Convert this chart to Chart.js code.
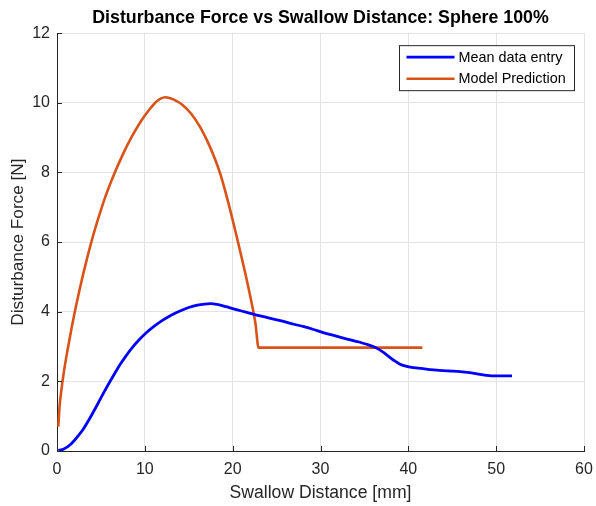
<!DOCTYPE html>
<html>
<head>
<meta charset="utf-8">
<script src="https://cdn.jsdelivr.net/npm/chart.js@4/dist/chart.umd.min.js"></script>
<style>
  html, body { margin: 0; padding: 0; background: #ffffff; }
  #wrap { width: 596px; height: 506px; }
</style>
</head>
<body>
<div id="wrap"><canvas id="c" width="596" height="506"></canvas></div>
<script>
// ---- data ----
const chartTitle = "Disturbance Force vs Swallow Distance: Sphere 100%";
const xAxisLabel = "Swallow Distance [mm]";
const yAxisLabel = "Disturbance Force [N]";
const seriesNames = ["Mean data entry", "Model Prediction"];

const meanX = [0.15, 0.6, 1.0, 1.5, 2.0, 2.5, 3.0, 3.6, 4.2, 4.8, 5.4, 6.0, 6.6, 7.2, 7.8, 8.5, 9.3, 10.1, 11.0, 12.0, 13.0, 14.0, 15.0, 16.0, 16.8, 17.5, 18.2, 18.9, 19.6, 20.3, 21.0, 22.0, 23.0, 24.3, 25.8, 27.0, 28.1, 29.2, 30.3, 31.5, 32.5, 33.4, 34.4, 35.3, 36.0, 36.5, 37.0, 37.5, 38.0, 38.5, 39.0, 39.5, 40.2, 41.5, 42.9, 44.5, 45.9, 47.0, 48.0, 48.9, 49.5, 51.8];
const meanY = [0.02, 0.04, 0.09, 0.18, 0.31, 0.46, 0.63, 0.88, 1.15, 1.43, 1.71, 1.98, 2.24, 2.49, 2.71, 2.95, 3.18, 3.38, 3.57, 3.75, 3.90, 4.02, 4.12, 4.19, 4.22, 4.23, 4.21, 4.17, 4.12, 4.07, 4.02, 3.95, 3.89, 3.81, 3.72, 3.64, 3.57, 3.49, 3.40, 3.32, 3.25, 3.19, 3.13, 3.06, 3.00, 2.94, 2.86, 2.77, 2.67, 2.58, 2.50, 2.45, 2.41, 2.37, 2.33, 2.30, 2.28, 2.25, 2.21, 2.17, 2.16, 2.16];

const modelX = [0.15, 0.3, 0.5, 0.8, 1.2, 1.7, 2.3, 3.0, 3.8, 4.6, 5.5, 6.5, 7.5, 8.5, 9.5, 10.5, 11.3, 11.8, 12.3, 12.8, 13.3, 14.3, 15.3, 16.3, 17.3, 18.0, 18.6, 19.2, 19.8, 20.4, 21.0, 21.6, 22.2, 22.6, 22.95, 41.6];
const modelY = [0.70, 1.30, 1.75, 2.30, 2.90, 3.58, 4.32, 5.10, 5.90, 6.60, 7.30, 7.95, 8.52, 9.02, 9.45, 9.80, 10.03, 10.12, 10.16, 10.14, 10.09, 9.94, 9.68, 9.30, 8.80, 8.38, 7.95, 7.42, 6.84, 6.22, 5.58, 4.92, 4.20, 3.65, 2.97, 2.97];

const xTicks = [0, 10, 20, 30, 40, 50, 60];
const yTicks = [0, 2, 4, 6, 8, 10, 12];

// ---- styling ----
const FONT = "'Liberation Sans', Arial, Helvetica, sans-serif";
const TEXT = "#262626";
const BLUE = "#0000ff";
const ORANGE = "#d95319";

function toPoints(xs, ys) { return xs.map((x, i) => ({ x: x, y: ys[i] })); }

// inward tick marks (MATLAB style)
const inwardTicks = {
  id: 'inwardTicks',
  afterDatasetsDraw(chart) {
    const ctx = chart.ctx, xs = chart.scales.x, ys = chart.scales.y, a = chart.chartArea;
    ctx.save();
    ctx.strokeStyle = TEXT;
    ctx.lineWidth = 1;
    ctx.beginPath();
    xTicks.forEach(v => {
      const px = Math.round(xs.getPixelForValue(v)) + 0.5;
      ctx.moveTo(px, a.bottom); ctx.lineTo(px, a.bottom - 5);
    });
    yTicks.forEach(v => {
      const py = Math.round(ys.getPixelForValue(v)) + 0.5;
      ctx.moveTo(a.left, py); ctx.lineTo(a.left + 5, py);
    });
    ctx.stroke();
    ctx.restore();
  }
};

// boxed legend inside the axes (top right)
const boxLegend = {
  id: 'boxLegend',
  afterDraw(chart) {
    const ctx = chart.ctx, a = chart.chartArea;
    const right = a.right - 9.5, top = a.top + 12.5;
    const w = 175, h = 45;
    const left = right - w;
    ctx.save();
    ctx.fillStyle = '#ffffff';
    ctx.fillRect(left, top, w, h);
    ctx.strokeStyle = TEXT;
    ctx.lineWidth = 1;
    ctx.strokeRect(left, top, w, h);
    ctx.font = "14.4px " + FONT;
    ctx.textBaseline = 'middle';
    ctx.textAlign = 'left';
    chart.data.datasets.forEach((ds, i) => {
      const cy = top + 11.5 + i * 21.6;
      ctx.strokeStyle = ds.borderColor;
      ctx.lineWidth = 2.6;
      ctx.beginPath();
      ctx.moveTo(left + 7, cy); ctx.lineTo(left + 55, cy);
      ctx.stroke();
      ctx.fillStyle = '#000000';
      ctx.fillText(ds.label, left + 59, cy + 0.5);
    });
    ctx.restore();
  }
};

new Chart(document.getElementById('c'), {
  type: 'scatter',
  data: {
    datasets: [
      { label: seriesNames[0], data: toPoints(meanX, meanY), showLine: true, borderColor: BLUE, backgroundColor: BLUE,
        borderWidth: 2.8, pointRadius: 0, cubicInterpolationMode: 'monotone' },
      { label: seriesNames[1], data: toPoints(modelX, modelY), showLine: true, borderColor: ORANGE, backgroundColor: ORANGE,
        borderWidth: 2.6, pointRadius: 0, cubicInterpolationMode: 'monotone' }
    ]
  },
  options: {
    responsive: false,
    animation: false,
    devicePixelRatio: 1,
    layout: { padding: { top: 0, right: 12, bottom: 0, left: 0 } },
    plugins: {
      legend: { display: false },
      tooltip: { enabled: false },
      title: {
        display: true,
        text: chartTitle,
        fullSize: false,
        color: '#000000',
        font: { family: FONT, size: 17.8, weight: 'bold', lineHeight: 1.2 },
        padding: { top: 7.8, bottom: 4.0 }
      }
    },
    scales: {
      x: {
        type: 'linear', min: 0, max: 60,
        afterBuildTicks(s) { s.ticks = xTicks.map(v => ({ value: v })); },
        afterFit(s) { s.height = 55; s.paddingLeft = 0; s.paddingRight = 0; },
        ticks: { color: TEXT, padding: 9, font: { family: FONT, size: 16 }, maxRotation: 0 },
        grid: { color: '#e3e3e3', lineWidth: 1, drawTicks: false },
        border: { display: true, color: TEXT, width: 1 },
        title: { display: true, text: xAxisLabel, color: TEXT, font: { family: FONT, size: 17.6, lineHeight: 1.2 }, padding: { top: 0, bottom: 2.4 } }
      },
      y: {
        type: 'linear', min: 0, max: 12,
        afterBuildTicks(s) { s.ticks = yTicks.map(v => ({ value: v })); },
        afterFit(s) { s.width = 57; s.paddingTop = 0; s.paddingBottom = 0; },
        ticks: { color: TEXT, padding: 7, font: { family: FONT, size: 16 } },
        grid: { color: '#e3e3e3', lineWidth: 1, drawTicks: false },
        border: { display: true, color: TEXT, width: 1 },
        title: { display: true, text: yAxisLabel, color: TEXT, font: { family: FONT, size: 17.2, lineHeight: 1.2 }, padding: { top: 7.6, bottom: 0 } }
      }
    }
  },
  plugins: [inwardTicks, boxLegend]
});
</script>
</body>
</html>
